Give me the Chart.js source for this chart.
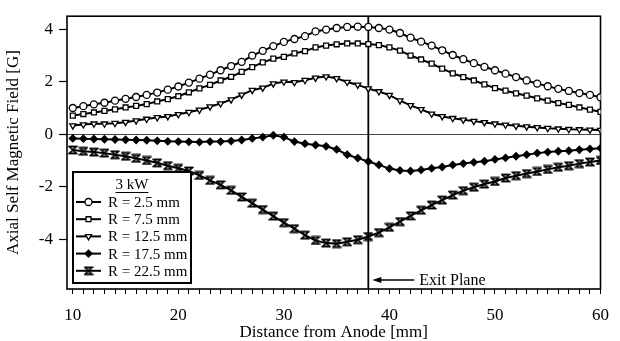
<!DOCTYPE html>
<html>
<head>
<meta charset="utf-8">
<title>Axial self magnetic field</title>
<style>
  html, body { margin: 0; padding: 0; background: #fff; }
  #wrap { width: 620px; height: 341px; }
</style>
</head>
<body>
<div id="wrap"><canvas id="fieldChart" width="620" height="341"></canvas></div>

<script src="https://cdn.jsdelivr.net/npm/chart.js"></script>
<script>
// distance from the anode, mm
const distance = [10, 11, 12, 13, 14, 15, 16, 17, 18, 19, 20, 21, 22, 23, 24, 25, 26, 27, 28, 29,
  30, 31, 32, 33, 34, 35, 36, 37, 38, 39, 40, 41, 42, 43, 44, 45, 46, 47, 48, 49,
  50, 51, 52, 53, 54, 55, 56, 57, 58, 59, 60];

// axial self field [G] at each radius
const fieldR2_5 = [1.00, 1.07, 1.14, 1.20, 1.28, 1.35, 1.42, 1.50, 1.59, 1.70, 1.82, 1.97, 2.12, 2.27, 2.44, 2.60, 2.76, 3.00, 3.18, 3.36,
  3.52, 3.63, 3.74, 3.92, 3.99, 4.05, 4.09, 4.10, 4.09, 4.05, 3.99, 3.86, 3.68, 3.53, 3.38, 3.20, 3.02, 2.86, 2.71, 2.57,
  2.44, 2.31, 2.18, 2.05, 1.93, 1.83, 1.73, 1.65, 1.57, 1.50, 1.41];
const fieldR7_5 = [0.71, 0.77, 0.83, 0.89, 0.95, 1.02, 1.08, 1.15, 1.25, 1.34, 1.45, 1.60, 1.75, 1.88, 2.05, 2.19, 2.38, 2.56, 2.74, 2.88,
  2.95, 3.08, 3.17, 3.31, 3.38, 3.43, 3.46, 3.46, 3.44, 3.40, 3.31, 3.19, 3.00, 2.85, 2.69, 2.50, 2.32, 2.18, 2.05, 1.90,
  1.76, 1.66, 1.56, 1.47, 1.37, 1.28, 1.19, 1.12, 1.02, 0.94, 0.85];
const fieldR12_5 = [0.33, 0.37, 0.40, 0.40, 0.42, 0.46, 0.52, 0.58, 0.64, 0.68, 0.76, 0.84, 0.93, 1.05, 1.17, 1.32, 1.50, 1.68, 1.77, 1.93,
  2.00, 1.98, 2.06, 2.15, 2.20, 2.13, 1.99, 1.88, 1.74, 1.63, 1.49, 1.28, 1.10, 0.95, 0.78, 0.68, 0.61, 0.55, 0.50, 0.45,
  0.40, 0.36, 0.32, 0.29, 0.26, 0.23, 0.21, 0.19, 0.18, 0.17, 0.16];
const fieldR17_5 = [-0.16, -0.17, -0.18, -0.19, -0.20, -0.21, -0.22, -0.23, -0.25, -0.27, -0.28, -0.29, -0.30, -0.28, -0.28, -0.26, -0.22, -0.16, -0.11, -0.04,
  -0.11, -0.28, -0.36, -0.41, -0.46, -0.58, -0.78, -0.91, -1.04, -1.17, -1.31, -1.38, -1.40, -1.36, -1.30, -1.25, -1.17, -1.12, -1.07, -1.03,
  -0.96, -0.90, -0.84, -0.78, -0.72, -0.68, -0.65, -0.63, -0.59, -0.56, -0.53];
const fieldR22_5 = [-0.60, -0.65, -0.68, -0.72, -0.78, -0.84, -0.92, -1.00, -1.09, -1.20, -1.30, -1.40, -1.57, -1.76, -1.93, -2.14, -2.39, -2.63, -2.87, -3.12,
  -3.37, -3.60, -3.85, -4.05, -4.15, -4.17, -4.10, -4.02, -3.90, -3.75, -3.55, -3.33, -3.11, -2.90, -2.70, -2.51, -2.32, -2.15, -2.02, -1.90,
  -1.80, -1.67, -1.58, -1.50, -1.42, -1.34, -1.26, -1.20, -1.12, -1.06, -1.00];

const radii = [2.5, 7.5, 12.5, 17.5, 22.5];
const fields = [fieldR2_5, fieldR7_5, fieldR12_5, fieldR17_5, fieldR22_5];

const xLabels = [10, 20, 30, 40, 50, 60];
const xMinorTicks = distance;          // a tick every millimetre
const yTicks = [-4, -2, 0, 2, 4];
const exitPlane = 38;                  // thruster exit plane, mm
const power = '3 kW';

const SERIF = '"Liberation Serif", "Times New Roman", serif';

// hourglass marker for the outermost radius
function hourglassMarker() {
  const c = document.createElement('canvas');
  c.width = 10; c.height = 10;
  const g = c.getContext('2d');
  g.strokeStyle = '#000';
  g.fillStyle = '#000';
  g.lineWidth = 1.6;
  g.beginPath();
  g.moveTo(1.5, 1.5); g.lineTo(8.5, 1.5); g.lineTo(1.5, 8.5); g.lineTo(8.5, 8.5);
  g.closePath();
  g.stroke();
  g.fillRect(1, 0.8, 8, 1.6);
  g.fillRect(1, 7.6, 8, 1.6);
  return c;
}

const markers = [
  { pointStyle: 'circle',   background: '#fff', rotation: 0 },
  { pointStyle: 'rect',     background: '#fff', rotation: 0 },
  { pointStyle: 'triangle', background: '#fff', rotation: 180 },
  { pointStyle: 'rectRot',  background: '#000', rotation: 0 },
  { pointStyle: hourglassMarker(), background: '#000', rotation: 0 }
];

const datasets = radii.map((r, i) => ({
  label: `R = ${r} mm`,
  data: distance.map((d, j) => ({ x: d, y: fields[i][j] })),
  borderColor: '#000',
  borderWidth: 2,
  tension: 0,
  pointStyle: markers[i].pointStyle,
  pointRotation: markers[i].rotation,
  pointRadius: 3.5,
  pointBorderWidth: 1.3,
  pointBorderColor: '#000',
  pointBackgroundColor: markers[i].background
}));

// frame, zero line and exit plane marker
const framePlugin = {
  id: 'frame',
  beforeDatasetsDraw(chart) {
    const { ctx, chartArea: a, scales: { x, y } } = chart;
    ctx.save();
    // zero line
    const y0 = Math.round(y.getPixelForValue(0)) + 0.5;
    ctx.strokeStyle = '#444';
    ctx.lineWidth = 1;
    ctx.beginPath();
    ctx.moveTo(a.left, y0); ctx.lineTo(a.right, y0);
    ctx.stroke();

    // exit plane
    const xe = x.getPixelForValue(exitPlane);
    ctx.strokeStyle = '#000';
    ctx.lineWidth = 1.8;
    ctx.beginPath();
    ctx.moveTo(xe, a.top); ctx.lineTo(xe, a.bottom);
    ctx.stroke();

    // arrow + label
    const ay = a.bottom - 9;
    ctx.lineWidth = 1.6;
    ctx.beginPath();
    ctx.moveTo(xe + 10, ay); ctx.lineTo(xe + 46, ay);
    ctx.stroke();
    ctx.fillStyle = '#000';
    ctx.beginPath();
    ctx.moveTo(xe + 4, ay); ctx.lineTo(xe + 13, ay - 3); ctx.lineTo(xe + 13, ay + 3);
    ctx.closePath();
    ctx.fill();
    ctx.font = '16px ' + SERIF;
    ctx.textBaseline = 'middle';
    ctx.textAlign = 'left';
    ctx.fillText('Exit Plane', xe + 51, ay + 1);

    // plot frame
    ctx.lineWidth = 1.6;
    ctx.strokeRect(a.left, a.top, a.right - a.left, a.bottom - a.top);
    ctx.restore();
  }
};

// boxed legend in the lower-left corner of the plot
const boxLegendPlugin = {
  id: 'boxLegend',
  afterDraw(chart) {
    const { ctx, chartArea: a } = chart;
    const x0 = a.left + 6, w = 118, h = 111;
    const y0 = a.bottom - 6 - h;
    ctx.save();
    ctx.fillStyle = '#fff';
    ctx.fillRect(x0, y0, w, h);
    ctx.strokeStyle = '#000';
    ctx.lineWidth = 2;
    ctx.strokeRect(x0, y0, w, h);

    ctx.fillStyle = '#000';
    ctx.font = '15px ' + SERIF;
    ctx.textBaseline = 'middle';
    ctx.textAlign = 'center';
    const cx = x0 + w / 2;
    ctx.fillText(power, cx, y0 + 13);
    const tw = ctx.measureText(power).width;
    ctx.lineWidth = 1;
    ctx.beginPath();
    ctx.moveTo(cx - tw / 2, y0 + 20.5); ctx.lineTo(cx + tw / 2, y0 + 20.5);
    ctx.stroke();

    ctx.textAlign = 'left';
    chart.data.datasets.forEach((ds, i) => {
      const ry = y0 + 30 + i * 17.2;
      ctx.strokeStyle = '#000';
      ctx.lineWidth = 2;
      ctx.beginPath();
      ctx.moveTo(x0 + 3, ry); ctx.lineTo(x0 + 28, ry);
      ctx.stroke();
      ctx.fillStyle = ds.pointBackgroundColor;
      ctx.lineWidth = ds.pointBorderWidth;
      Chart.helpers.drawPoint(ctx, {
        pointStyle: ds.pointStyle,
        rotation: ds.pointRotation,
        radius: ds.pointRadius,
        borderWidth: ds.pointBorderWidth
      }, x0 + 15.5, ry);
      ctx.fillStyle = '#000';
      ctx.fillText(ds.label, x0 + 35, ry + 1);
    });
    ctx.restore();
  }
};

new Chart(document.getElementById('fieldChart'), {
  type: 'line',
  data: { datasets },
  plugins: [framePlugin, boxLegendPlugin],
  options: {
    responsive: false,
    animation: false,
    layout: { padding: { top: 10, right: 7, left: 0, bottom: 0 } },
    plugins: {
      legend: { display: false },
      tooltip: { enabled: false }
    },
    scales: {
      x: {
        type: 'linear',
        min: 9.45,
        max: 60,
        afterBuildTicks: s => { s.ticks = xMinorTicks.map(v => ({ value: v })); },
        afterFit: s => { s.height = 52; },
        grid: { drawOnChartArea: false, tickLength: 5, tickColor: '#000', tickWidth: 1 },
        border: { display: false },
        ticks: {
          autoSkip: false,
          maxRotation: 0,
          padding: 11,
          color: '#000',
          font: { family: SERIF, size: 17 },
          callback: v => xLabels.includes(v) ? String(v) : ''
        },
        title: {
          display: true,
          text: 'Distance from Anode [mm]',
          color: '#000',
          font: { family: SERIF, size: 17, lineHeight: 1 },
          padding: { top: 0, bottom: 0 }
        }
      },
      y: {
        min: -5.9,
        max: 4.5,
        afterBuildTicks: s => { s.ticks = yTicks.map(v => ({ value: v })); },
        afterFit: s => { s.width = 67; },
        grid: { drawOnChartArea: false, tickLength: 8, tickColor: '#000', tickWidth: 1.2 },
        border: { display: false },
        ticks: {
          padding: 6,
          color: '#000',
          font: { family: SERIF, size: 17 },
          callback: v => String(v)
        },
        title: {
          display: true,
          text: 'Axial Self Magnetic Field [G]',
          color: '#000',
          font: { family: SERIF, size: 17, lineHeight: 1 },
          padding: { top: 5, bottom: 0 }
        }
      }
    }
  }
});
</script>
</body>
</html>
